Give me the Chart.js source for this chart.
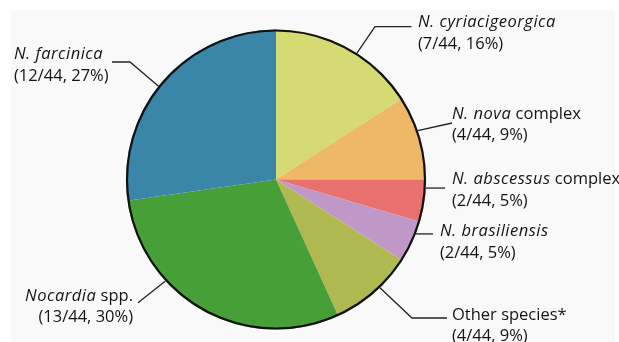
<!DOCTYPE html>
<html>
<head>
<meta charset="utf-8">
<script src="https://cdn.jsdelivr.net/npm/chart.js@4"></script>
<style>
  html, body { margin: 0; padding: 0; background: #ffffff; }
  #wrap { width: 619px; height: 342px; }
</style>
</head>
<body>
<div id="wrap"><canvas id="pie" width="619" height="342"></canvas></div>
<script>
// Species groups, drawn clockwise from 12 o'clock
const nameItalic = ["N. cyriacigeorgica", "N. nova", "N. abscessus", "N. brasiliensis", "", "Nocardia", "N. farcinica"];
const nameRoman  = ["", " complex", " complex", "", "Other species*", " spp.", ""];
const isolates   = [7, 4, 2, 2, 4, 13, 12];
const totalIsolates = 44;
const sliceColors = ["#d5db72", "#eeb866", "#e8706e", "#bf98c7", "#b0b94f", "#479f38", "#3a86a8"];

// Callout placement: where the leader leaves the slice (fraction of the slice's sweep),
// the leader's further vertices (null y = keep previous y), and the text anchor.
const callouts = [
  { at: 0.57, path: [[375, 26.7], [411.5, 26.7]], x: 418, y: 27,  align: "left" },
  { at: 0.42, path: [[452, 123]],                 x: 452, y: 118.5, align: "left" },
  { at: 0.20, path: [[445, null]],                x: 452, y: 184, align: "left" },
  { at: 0.30, path: [[433, null]],                x: 440, y: 236, align: "left" },
  { at: 0.41, path: [[412, 318], [447, 318]],     x: 452, y: 319.5, align: "left" },
  { at: 0.677, path: [[138, 302.7]],              x: 133, y: 300.5, align: "right" },
  { at: 0.475, path: [[130, 62], [112, 62]],      x: 14,  y: 59,  align: "left" }
];
const FONT = '"Open Sans", "Noto Sans", sans-serif';
const FONT_SIZE = 16.5;
const ITALIC_SPACING = "0.5px";
const LINE_GAP = 21.5;

const panelPlugin = {
  id: "panel",
  beforeDraw(chart) {
    const c = chart.ctx;
    c.save();
    c.fillStyle = "#ffffff";
    c.fillRect(0, 0, chart.width, chart.height);
    c.fillStyle = "#f9f9f9";
    c.fillRect(11, 10, chart.width - 15, chart.height - 10);
    c.restore();
  }
};

const calloutPlugin = {
  id: "callouts",
  afterDatasetsDraw(chart) {
    const c = chart.ctx;
    const arcs = chart.getDatasetMeta(0).data;
    if (!arcs.length) return;
    const cx = arcs[0].x, cy = arcs[0].y, R = arcs[0].outerRadius;

    // outer rim of the pie
    c.save();
    c.beginPath();
    c.arc(cx, cy, R - 1, 0, Math.PI * 2);
    c.lineWidth = 2.2;
    c.strokeStyle = "#111111";
    c.stroke();

    arcs.forEach((arc, i) => {
      const co = callouts[i];
      const ang = arc.startAngle + (arc.endAngle - arc.startAngle) * co.at;
      let px = cx + Math.cos(ang) * R, py = cy + Math.sin(ang) * R;
      c.beginPath();
      c.moveTo(px, py);
      co.path.forEach(([x, y]) => {
        py = (y === null) ? py : y;
        c.lineTo(x, py);
      });
      c.lineWidth = 1.3;
      c.strokeStyle = "#222222";
      c.stroke();

      // two-line label: species name, then count and share
      const n = isolates[i];
      const pct = Math.round(n / totalIsolates * 100);
      const line2 = "(" + n + "/" + totalIsolates + ", " + pct + "%)";
      c.fillStyle = "#141414";
      c.textBaseline = "alphabetic";
      c.textAlign = "left";
      const itFont = "italic " + FONT_SIZE + "px " + FONT;
      const rmFont = FONT_SIZE + "px " + FONT;
      c.font = itFont;
      c.letterSpacing = ITALIC_SPACING;
      const wIt = nameItalic[i] ? c.measureText(nameItalic[i]).width : 0;
      c.letterSpacing = "0px";
      c.font = rmFont;
      const wRm = c.measureText(nameRoman[i]).width;
      const w2 = c.measureText(line2).width;
      let x1 = co.x, x2 = co.x;
      if (co.align === "right") { x1 = co.x - wIt - wRm; x2 = co.x - w2; }
      c.font = itFont;
      c.letterSpacing = ITALIC_SPACING;
      c.fillText(nameItalic[i], x1, co.y);
      c.letterSpacing = "0px";
      c.font = rmFont;
      c.fillText(nameRoman[i], x1 + wIt, co.y);
      c.fillText(line2, x2, co.y + LINE_GAP);
    });
    c.restore();
  }
};

new Chart(document.getElementById("pie"), {
  type: "pie",
  data: {
    labels: nameItalic.map((s, i) => (s + nameRoman[i]).trim()),
    datasets: [{
      data: isolates,
      backgroundColor: sliceColors,
      borderWidth: 0
    }]
  },
  options: {
    responsive: false,
    devicePixelRatio: 1,
    animation: false,
    layout: { padding: { left: 126, right: 193, top: 29.5, bottom: 12.5 } },
    plugins: { legend: { display: false }, tooltip: { enabled: false } }
  },
  plugins: [panelPlugin, calloutPlugin]
});
</script>
</body>
</html>
